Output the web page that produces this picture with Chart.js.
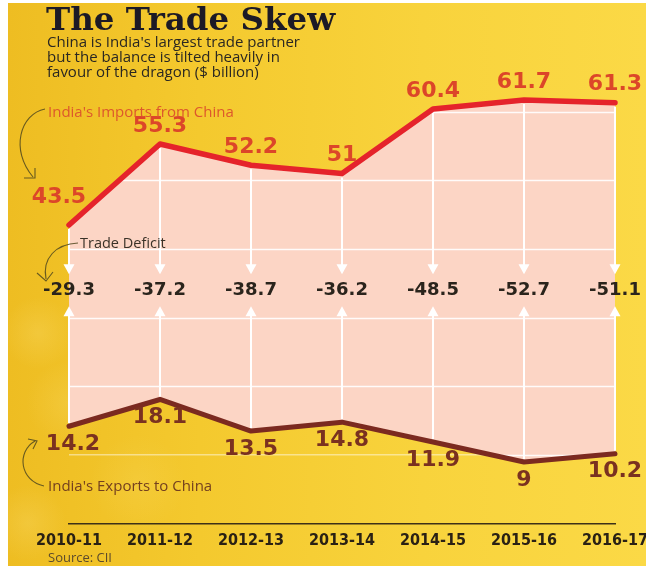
<!DOCTYPE html>
<html>
<head>
<meta charset="utf-8">
<title>The Trade Skew</title>
<script src="https://cdn.jsdelivr.net/npm/chart.js@4.4.1/dist/chart.umd.min.js"></script>
<style>
  html, body { margin: 0; padding: 0; background: #fff; }
  #wrap { position: relative; width: 646px; height: 566px; overflow: hidden; }
  #bg {
    position: absolute; left: 8px; top: 3px; right: 0; bottom: 0;
    background:
      radial-gradient(circle at 30px 330px, rgba(255, 232, 140, 0.22) 0, rgba(255, 232, 140, 0) 36px),
      radial-gradient(circle at 60px 400px, rgba(255, 232, 140, 0.18) 0, rgba(255, 232, 140, 0) 42px),
      radial-gradient(circle at 20px 520px, rgba(255, 232, 140, 0.22) 0, rgba(255, 232, 140, 0) 38px),
      radial-gradient(circle at 130px 480px, rgba(255, 232, 140, 0.14) 0, rgba(255, 232, 140, 0) 48px),
      linear-gradient(to right, #eebd22 0%, #f4c92e 30%, #f8d33c 65%, #fbd946 100%);
  }
  canvas { position: absolute; left: 0; top: 0; }
</style>
</head>
<body>
<div id="wrap">
  <div id="bg"></div>
  <canvas id="myChart" width="646" height="566"></canvas>
</div>
<script>
// $ billion
const years = ["2010-11", "2011-12", "2012-13", "2013-14", "2014-15", "2015-16", "2016-17"];
const imports = [43.5, 55.3, 52.2, 51, 60.4, 61.7, 61.3];
const exports = [14.2, 18.1, 13.5, 14.8, 11.9, 9, 10.2];
const deficit = [-29.3, -37.2, -38.7, -36.2, -48.5, -52.7, -51.1];

const RED = "#e5232b";
const RED_TXT = "#dc4629";
const BROWN = "#7b2a20";
const BROWN_TXT = "#7a3120";
const PINK = "#fcd5c5";
const INK = "#2a241c";

const graphic = document.getElementById("myChart").getContext("2d");

// white grid + arrows inside the pink band, drawn after the fill and before the lines
const bandPlugin = {
    id: "band",
    beforeDatasetsDraw(chart) {
        const ctx = chart.ctx;
        const top = chart.getDatasetMeta(0).data;
        const bot = chart.getDatasetMeta(1).data;
        const yScale = chart.scales.y;
        const area = chart.chartArea;

        ctx.save();
        ctx.beginPath();
        top.forEach((p, i) => i ? ctx.lineTo(p.x, p.y) : ctx.moveTo(p.x, p.y));
        for (let i = bot.length - 1; i >= 0; i--) ctx.lineTo(bot[i].x, bot[i].y);
        ctx.closePath();
        ctx.clip();
        ctx.strokeStyle = "rgba(255,255,255,0.9)";
        ctx.lineWidth = 1.5;
        for (let v = 10; v <= 60; v += 10) {
            const y = Math.round(yScale.getPixelForValue(v)) + 0.5;
            ctx.beginPath();
            ctx.moveTo(area.left, y);
            ctx.lineTo(area.right, y);
            ctx.stroke();
        }
        ctx.restore();

        // vertical arrows pointing at the deficit row
        const rowY = yScale.getPixelForValue(34);
        ctx.save();
        ctx.strokeStyle = "#ffffff";
        ctx.fillStyle = "#ffffff";
        ctx.lineWidth = 2;
        top.forEach((p, i) => {
            const x = p.x;
            const downTip = rowY - 16;
            const upTip = rowY + 16;
            ctx.beginPath();
            ctx.moveTo(x, p.y + 4);
            ctx.lineTo(x, downTip - 8);
            ctx.moveTo(x, upTip + 8);
            ctx.lineTo(x, bot[i].y - 3);
            ctx.stroke();
            ctx.beginPath();
            ctx.moveTo(x - 5.5, downTip - 10);
            ctx.lineTo(x + 5.5, downTip - 10);
            ctx.lineTo(x, downTip);
            ctx.closePath();
            ctx.fill();
            ctx.beginPath();
            ctx.moveTo(x - 5.5, upTip + 10);
            ctx.lineTo(x + 5.5, upTip + 10);
            ctx.lineTo(x, upTip);
            ctx.closePath();
            ctx.fill();
        });
        ctx.restore();
    },
    afterDatasetsDraw(chart) {
        const ctx = chart.ctx;
        const top = chart.getDatasetMeta(0).data;
        const bot = chart.getDatasetMeta(1).data;
        const rowY = chart.scales.y.getPixelForValue(34);
        ctx.save();
        ctx.textAlign = "center";
        ctx.textBaseline = "middle";
        ctx.font = "bold 22px 'DejaVu Sans'";
        ctx.fillStyle = RED_TXT;
        top.forEach((p, i) => {
            if (i === 0) ctx.fillText(String(imports[i]), p.x - 10, p.y - 28);
            else ctx.fillText(String(imports[i]), p.x, p.y - 18);
        });
        ctx.fillStyle = BROWN_TXT;
        bot.forEach((p, i) => {
            ctx.fillText(String(exports[i]), p.x + (i === 0 ? 4 : 0), p.y + 18);
        });
        ctx.font = "bold 18px 'DejaVu Sans'";
        ctx.fillStyle = INK;
        top.forEach((p, i) => {
            ctx.fillText(deficit[i].toFixed(1), p.x, rowY);
        });
        ctx.restore();
    },
    afterDraw(chart) {
        const ctx = chart.ctx;
        ctx.save();
        ctx.textAlign = "left";
        ctx.textBaseline = "alphabetic";

        ctx.fillStyle = "#1c1a26";
        ctx.font = "bold 32.5px 'DejaVu Serif'";
        ctx.fillText("The Trade Skew", 46, 30, 290);

        ctx.fillStyle = "#2a2722";
        ctx.font = "15px 'Open Sans'";
        ctx.fillText("China is India's largest trade partner", 47, 47);
        ctx.fillText("but the balance is tilted heavily in", 47, 62);
        ctx.fillText("favour of the dragon ($ billion)", 47, 77);

        ctx.fillStyle = "#dd582c";
        ctx.fillText("India's Imports from China", 48, 117);
        ctx.fillStyle = "#3a3228";
        ctx.font = "14.5px 'Open Sans'";
        ctx.fillText("Trade Deficit", 80, 248);
        ctx.fillStyle = "#74401f";
        ctx.font = "15px 'Open Sans'";
        ctx.fillText("India's Exports to China", 48, 491);
        ctx.fillStyle = "#5b4a2c";
        ctx.font = "13px 'Open Sans'";
        ctx.fillText("Source: CII", 48, 562);

        // hand-drawn pointer curves
        ctx.strokeStyle = "rgba(80,72,30,0.85)";
        ctx.lineWidth = 1.1;
        ctx.beginPath();
        ctx.moveTo(45, 109);
        ctx.bezierCurveTo(20, 114, 10, 150, 33, 177);
        ctx.moveTo(24, 178);
        ctx.lineTo(35, 178);
        ctx.lineTo(35, 168);
        ctx.stroke();

        ctx.beginPath();
        ctx.moveTo(78, 243);
        ctx.bezierCurveTo(56, 244, 42, 258, 46, 279);
        ctx.moveTo(37, 273);
        ctx.lineTo(46, 281);
        ctx.lineTo(53, 272);
        ctx.stroke();

        ctx.beginPath();
        ctx.moveTo(44, 486);
        ctx.bezierCurveTo(20, 481, 16, 452, 35, 441);
        ctx.moveTo(28, 439);
        ctx.lineTo(37, 441);
        ctx.lineTo(33, 449);
        ctx.stroke();
        ctx.restore();
    }
};

window.graphic = new Chart(graphic, {
    type: "line",
    data: {
        labels: years,
        datasets: [{
            label: "India's Imports from China",
            data: imports,
            borderColor: RED,
            borderWidth: 5.5,
            backgroundColor: PINK,
            fill: "+1",
            pointRadius: 0,
            tension: 0,
            borderCapStyle: "round",
            borderJoinStyle: "round",
            clip: false
        }, {
            label: "India's Exports to China",
            data: exports,
            borderColor: BROWN,
            borderWidth: 5,
            fill: false,
            pointRadius: 0,
            tension: 0,
            borderCapStyle: "round",
            borderJoinStyle: "round",
            clip: false
        }]
    },
    options: {
        responsive: false,
        animation: false,
        layout: { padding: { left: 69, right: 31, top: 43, bottom: 9 } },
        plugins: {
            legend: { display: false },
            tooltip: { enabled: false },
            filler: { drawTime: "beforeDatasetsDraw" }
        },
        scales: {
            x: {
                offset: false,
                grid: { display: false, drawTicks: false },
                border: { display: true, color: "#3d3018", width: 1.5 },
                // let the last year label run off the edge instead of shrinking the plot
                afterFit: (scale) => { scale.paddingLeft = 0; scale.paddingRight = 0; },
                ticks: {
                    autoSkip: false,
                    maxRotation: 0,
                    padding: 7,
                    color: "#2a2114",
                    font: { family: "'DejaVu Sans Condensed', 'DejaVu Sans', sans-serif", weight: "bold", size: 16 }
                }
            },
            y: {
                min: 0,
                max: 70,
                grid: {
                    drawTicks: false,
                    lineWidth: 1.5,
                    color: (c) => c.tick.value === 10 ? "rgba(255,255,255,0.45)" : "rgba(0,0,0,0)"
                },
                border: { display: false },
                ticks: { display: false, stepSize: 10 }
            }
        }
    },
    plugins: [bandPlugin]
});
</script>
</body>
</html>
